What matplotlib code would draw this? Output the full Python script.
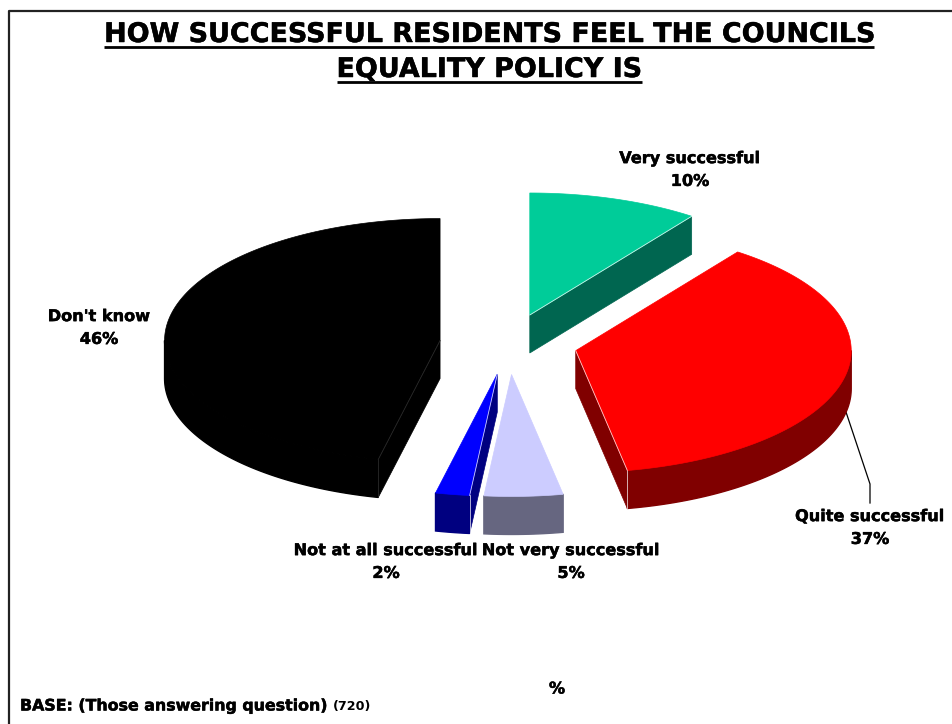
import numpy as np
import matplotlib
matplotlib.use("Agg")
import matplotlib.pyplot as plt
import matplotlib.patheffects as pe
from matplotlib.patches import Polygon

TITLE_LINES = ["HOW SUCCESSFUL RESIDENTS FEEL THE COUNCILS", "EQUALITY POLICY IS"]
CATEGORIES = ["Very successful", "Quite successful", "Not very successful",
              "Not at all successful", "Don't know"]
# raw shares, labels show them rounded
VALUES = [10.0, 37.0, 4.6, 2.0, 46.4]
TOP_COLORS = ["#00CC99", "#FF0000", "#CCCCFF", "#0000FF", "#000000"]
SIDE_COLORS = ["#006650", "#800000", "#666680", "#000080", "#000000"]
LABEL_POS = [(690, 170), (870, 528), (571, 562), (386, 562), (99, 328)]

# pie geometry in image pixels
CX, CY = 508.5, 344
RX, RY = 275.5, 122
DEPTH = 38
EXPLODE = 0.25

HEAVY = [pe.withStroke(linewidth=0.35, foreground="black")]


def point(ang, ox, oy, r=1.0, drop=0):
    t = np.radians(ang)
    return ox + RX * r * np.sin(t), oy - RY * r * np.cos(t) + drop


def arc(a0, a1, ox, oy, drop=0):
    angs = np.linspace(a0, a1, max(int(abs(a1 - a0)), 2) + 1)
    x, y = point(angs, ox, oy, drop=drop)
    return np.column_stack([x, y])


def draw_slice(ax, a0, a1, top, side):
    mid = (a0 + a1) / 2
    ox, oy = point(mid, CX, CY, r=EXPLODE)
    apex = np.array([ox, oy])
    edge = "white" if top != "#000000" else "#333333"

    # radial wall, only the one turned towards the viewer
    wall = a1 if np.sin(np.radians(a1)) > 0.001 else a0
    if np.sin(np.radians(wall)) * (1 if wall == a1 else -1) > 0.001:
        px, py = point(wall, ox, oy)
        quad = [apex, (px, py), (px, py + DEPTH), apex + (0, DEPTH)]
        ax.add_patch(Polygon(quad, fc=side, ec=side, lw=0.5, zorder=2))
        ax.plot([px, px], [py, py + DEPTH], color=edge, lw=0.6, alpha=0.8, zorder=3)
        ax.plot([ox, px], [oy, py], color=edge, lw=0.6, alpha=0.8, zorder=4)

    # outer wall, front half of the ellipse
    lo, hi = max(a0, 90), min(a1, 270)
    if hi > lo:
        upper = arc(lo, hi, ox, oy)
        lower = arc(lo, hi, ox, oy, drop=DEPTH)[::-1]
        ax.add_patch(Polygon(np.vstack([upper, lower]), fc=side, ec=side, lw=1.0, zorder=2))

    outline = np.vstack([apex, arc(a0, a1, ox, oy)])
    ax.add_patch(Polygon(outline, fc=top, ec=top, lw=0.5, zorder=3))


fig = plt.figure(figsize=(9.52, 7.24), dpi=100)
ax = fig.add_axes([0, 0, 1, 1])
ax.set_xlim(0, 952)
ax.set_ylim(724, 0)
ax.axis("off")

# frame, open at the right and bottom like the source
ax.plot([8.5, 8.5, 952], [724, 11, 11], color="#222222", lw=1.6, zorder=1)

angles = np.concatenate([[0], np.cumsum(VALUES) / np.sum(VALUES) * 360])
for i in range(len(VALUES)):
    draw_slice(ax, angles[i], angles[i + 1], TOP_COLORS[i], SIDE_COLORS[i])

# leader for the Quite successful label
ax.plot([846, 870, 870], [412, 484, 503], color="black", lw=0.9, zorder=1)

for name, val, (x, y) in zip(CATEGORIES, VALUES, LABEL_POS):
    ax.text(x, y, f"{name}\n{round(val)}%", ha="center", va="center", fontsize=11.6,
            fontweight="bold", family="DejaVu Sans", linespacing=1.65, zorder=6,
            path_effects=HEAVY)

fig.canvas.draw()
renderer = fig.canvas.get_renderer()
for line, y in zip(TITLE_LINES, [33, 68]):
    t = ax.text(489, y + 2, line, ha="center", va="center", fontsize=19.4,
                fontweight="bold", family="DejaVu Sans", color="black", path_effects=HEAVY)
    box = t.get_window_extent(renderer).transformed(ax.transData.inverted())
    ax.plot([box.x0, box.x1], [y + 13.5, y + 13.5], color="black", lw=2.0, solid_capstyle="butt")

ax.text(557, 689, "%", ha="center", va="center", fontsize=11.6, fontweight="bold",
        family="DejaVu Sans", path_effects=HEAVY)
base = ax.text(20, 706, "BASE: (Those answering question)", ha="left", va="center",
               fontsize=11.4, fontweight="bold", family="DejaVu Sans", path_effects=HEAVY)
box = base.get_window_extent(renderer).transformed(ax.transData.inverted())
ax.text(box.x1 + 4, 706.5, "(720)", ha="left", va="center", fontsize=9.2,
        fontweight="bold", family="DejaVu Sans")

fig.savefig("out.png", dpi=100)
